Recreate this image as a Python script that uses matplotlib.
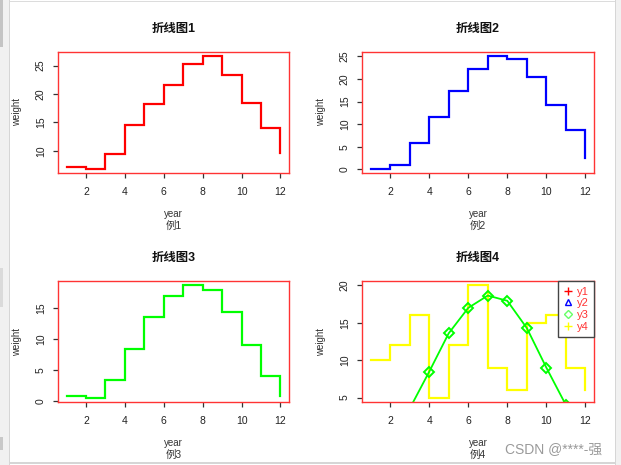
import matplotlib
matplotlib.use('Agg')
import matplotlib.pyplot as plt
from matplotlib.patches import Rectangle
from matplotlib.lines import Line2D

plt.rcParams['font.family'] = ['Liberation Sans', 'Noto Sans CJK SC', 'DejaVu Sans']

# ---- data ----
x = list(range(1, 13))
y1 = [7.1, 6.9, 9.5, 14.5, 18.3, 21.5, 25.3, 26.6, 23.3, 18.4, 14.1, 9.6]
y2 = [0.2, 1.0, 5.8, 11.5, 17.3, 22.3, 25.0, 24.4, 20.4, 14.3, 8.7, 2.6]
y3 = [0.85, 0.6, 3.5, 8.45, 13.6, 17.0, 18.65, 17.95, 14.3, 9.0, 4.0, 0.9]
y4 = [10, 12, 16, 5, 12, 20, 9, 6, 15, 16, 9, 6]
xticks = [2, 4, 6, 8, 10, 12]
yticks1 = [10, 15, 20, 25]
yticks2 = [0, 5, 10, 15, 20, 25]
yticks3 = [0, 5, 10, 15]
yticks4 = [5, 10, 15, 20]
titles = ['折线图1', '折线图2', '折线图3', '折线图4']
subs = ['例1', '例2', '例3', '例4']
legend_labels = ['y1', 'y2', 'y3', 'y4']

W, H = 621, 465
fig = plt.figure(figsize=(W / 100, H / 100), dpi=100)


def prect(x0, y0, x1, y1_):
    return [x0 / W, 1 - y1_ / H, (x1 - x0) / W, (y1_ - y0) / H]


def rlim(v):
    lo, hi = min(v), max(v)
    r = hi - lo
    return lo - 0.04 * r, hi + 0.04 * r


# ---- window frame decorations ----
def frect(x0, y0, x1, y1_, c):
    fig.add_artist(Rectangle((x0 / W, 1 - y1_ / H), (x1 - x0) / W, (y1_ - y0) / H,
                             transform=fig.transFigure, color=c, lw=0, zorder=-5))

frect(0, 0, 9, H, '#f1f1f1')
frect(9, 0, 10, H, '#d6d6d6')
frect(0, 0, 3, 47, '#c4c4c4')
frect(0, 268, 3, 307, '#dadada')
frect(0, 437, 3, 450, '#c8c8c8')
frect(10, 1, 615, 2.5, '#dcdcdc')
frect(615, 0, 616, H, '#d6d6d6')
frect(616, 0, W, H, '#f1f1f1')
frect(10, 462, 615, 463.5, '#d6d6d6')

boxes = [(58, 52, 289, 173), (362, 52, 594, 173), (58, 281, 289, 402), (362, 281, 594, 402)]
series = [(y1, 'red', yticks1), (y2, 'blue', yticks2), (y3, '#00ff00', yticks3), (y4, '#ffff00', yticks4)]

axes = []
for i, (b, (ys, col, yt)) in enumerate(zip(boxes, series)):
    ax = fig.add_axes(prect(*b))
    ax.plot(x, ys, drawstyle='steps-post', color=col, lw=1.6, solid_joinstyle='miter')
    ax.set_xlim(0.56, 12.44)
    ax.set_ylim(*rlim(ys))
    ax.set_xticks(xticks)
    ax.set_yticks(yt)
    ax.tick_params(direction='out', length=3.8, width=0.9, color='#333333',
                   labelsize=7.5, labelcolor='#222222')
    ax.tick_params(axis='x', pad=6)
    ax.tick_params(axis='y', pad=5)
    plt.setp(ax.get_yticklabels(), rotation=90, va='center')
    for s in ax.spines.values():
        s.set_color('#ff3333')
        s.set_linewidth(1.0)
    x0, y0, x1, y1_ = b
    cx = (x0 + x1) / 2
    cy = (y0 + y1_) / 2
    fig.text(cx / W, 1 - 29 / H - (y0 - 52) / H, titles[i], ha='center', va='center',
             fontsize=8.9, fontweight='bold', color='#111111')
    fig.text(cx / W, 1 - (y1_ + 41) / H, 'year', ha='center', va='center',
             fontsize=7, color='#333333')
    fig.text(cx / W, 1 - (y1_ + 53) / H, subs[i], ha='center', va='center',
             fontsize=7.5, color='#333333')
    fig.text((x0 - 41) / W, 1 - cy / H, 'weight', ha='center', va='center',
             rotation=90, fontsize=7, color='#333333')
    axes.append(ax)

ax4 = axes[3]
ax4.plot(x, y3, color='#00ff00', lw=1.3, marker='D', ms=5.5, mfc='none', mew=1.4)
ax4.set_ylim(*rlim(y4))

handles = [
    Line2D([], [], ls='none', marker='+', color='red', ms=6, mew=1),
    Line2D([], [], ls='none', marker='^', color='blue', mfc='none', ms=4.5, mew=1),
    Line2D([], [], ls='none', marker='D', color='#66ff66', mfc='none', ms=3.8, mew=1),
    Line2D([], [], ls='none', marker='+', color='#ffff00', ms=6, mew=1),
]
leg = ax4.legend(handles, legend_labels, loc='upper right', borderaxespad=0,
                 fancybox=False, edgecolor='#444444', framealpha=1, fontsize=8,
                 labelcolor='#ff3333', handlelength=0.8, handletextpad=0.35,
                 borderpad=0.5, labelspacing=0.15)
leg.get_frame().set_linewidth(1.0)

fig.text(505 / W, 1 - 449 / H, 'CSDN @****-强', ha='left', va='center',
         fontsize=10, color='#9a9a9a')

fig.savefig('out.png', dpi=100)
